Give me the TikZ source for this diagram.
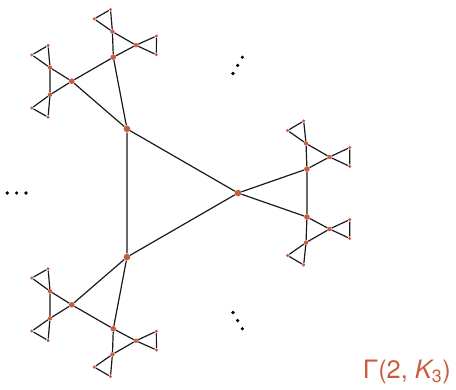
\documentclass[tikz,border=0pt]{standalone}
\usepackage{fontspec}
\setmainfont{TeX Gyre Heros}
\usetikzlibrary{calc}
\definecolor{vertexfill}{HTML}{C95C3E}
\definecolor{linkink}{HTML}{1A1A1A}
\tikzset{
  vtx/.style={circle, fill=vertexfill, inner sep=0pt, minimum size=#1},
  ell/.style={circle, fill=black, inner sep=0pt, minimum size=2.7pt},
  link/.style={linkink, line width=0.9pt}
}

\begin{document}
\begin{tikzpicture}[x=0.75pt, y=0.75pt]

  %% ---- 圖框: 中心三角形的重心放在原點 ----
  \useasboundingbox (-164,-196) rectangle (292,193);

  %% ---- 三個分支, 每支轉 120 度 ----
  \foreach \b/\ang in {1/0, 2/120, 3/240} {
    \begin{scope}[rotate=\ang]
      %% 中心三角形的頂點
      \node[vtx=5pt] (v\b) at (0:74) {};

      %% 分支之間的省略號
      \foreach \k/\r in {1/138, 2/147.3, 3/156.7}
        \node[ell] (dots\b-\k) at (60:\r) {};

      %% 上下兩側互為鏡像
      \foreach \s/\m in {a/1, b/-1} {
        \begin{scope}[yscale=\m]
          %% 第一層
          \node[vtx=4.2pt] (p\b-\s) at ($(v\b)+(19.2:73)$) {};
          %% 第二層
          \node[vtx=3.3pt] (q\b-\s-1) at ($(p\b-\s)+(92:25.6)$) {};
          \node[vtx=3.3pt] (q\b-\s-2) at ($(p\b-\s)+(28:25.6)$) {};
          %% 葉子
          \node[vtx=2.6pt] (r\b-\s-1) at ($(q\b-\s-1)+(96:22.5)$) {};
          \node[vtx=2.6pt] (r\b-\s-2) at ($(q\b-\s-1)+(145:22.5)$) {};
          \node[vtx=2.6pt] (r\b-\s-3) at ($(q\b-\s-2)+(25:22.2)$) {};
          \node[vtx=2.6pt] (r\b-\s-4) at ($(q\b-\s-2)+(-25:22.2)$) {};

          \draw[link] (p\b-\s) -- (q\b-\s-1) -- (q\b-\s-2) -- (p\b-\s);
          \draw[link] (q\b-\s-1) -- (r\b-\s-1) -- (r\b-\s-2) -- (q\b-\s-1);
          \draw[link] (q\b-\s-2) -- (r\b-\s-3) -- (r\b-\s-4) -- (q\b-\s-2);
        \end{scope}
      }

      %% 頂點與第一層的三角形
      \draw[link] (v\b) -- (p\b-a) -- (p\b-b) -- (v\b);
    \end{scope}
  }

  %% ---- 中心三角形 ----
  \draw[link] (v1) -- (v2) -- (v3) -- (v1);

  %% ---- 標題 ----
  \node[text=vertexfill, anchor=base east, inner sep=0pt,
        font=\fontsize{19}{21}\selectfont] (title) at (287,-185)
    {Γ(2, {\itshape K}\textsubscript{3})};

\end{tikzpicture}
\end{document}
